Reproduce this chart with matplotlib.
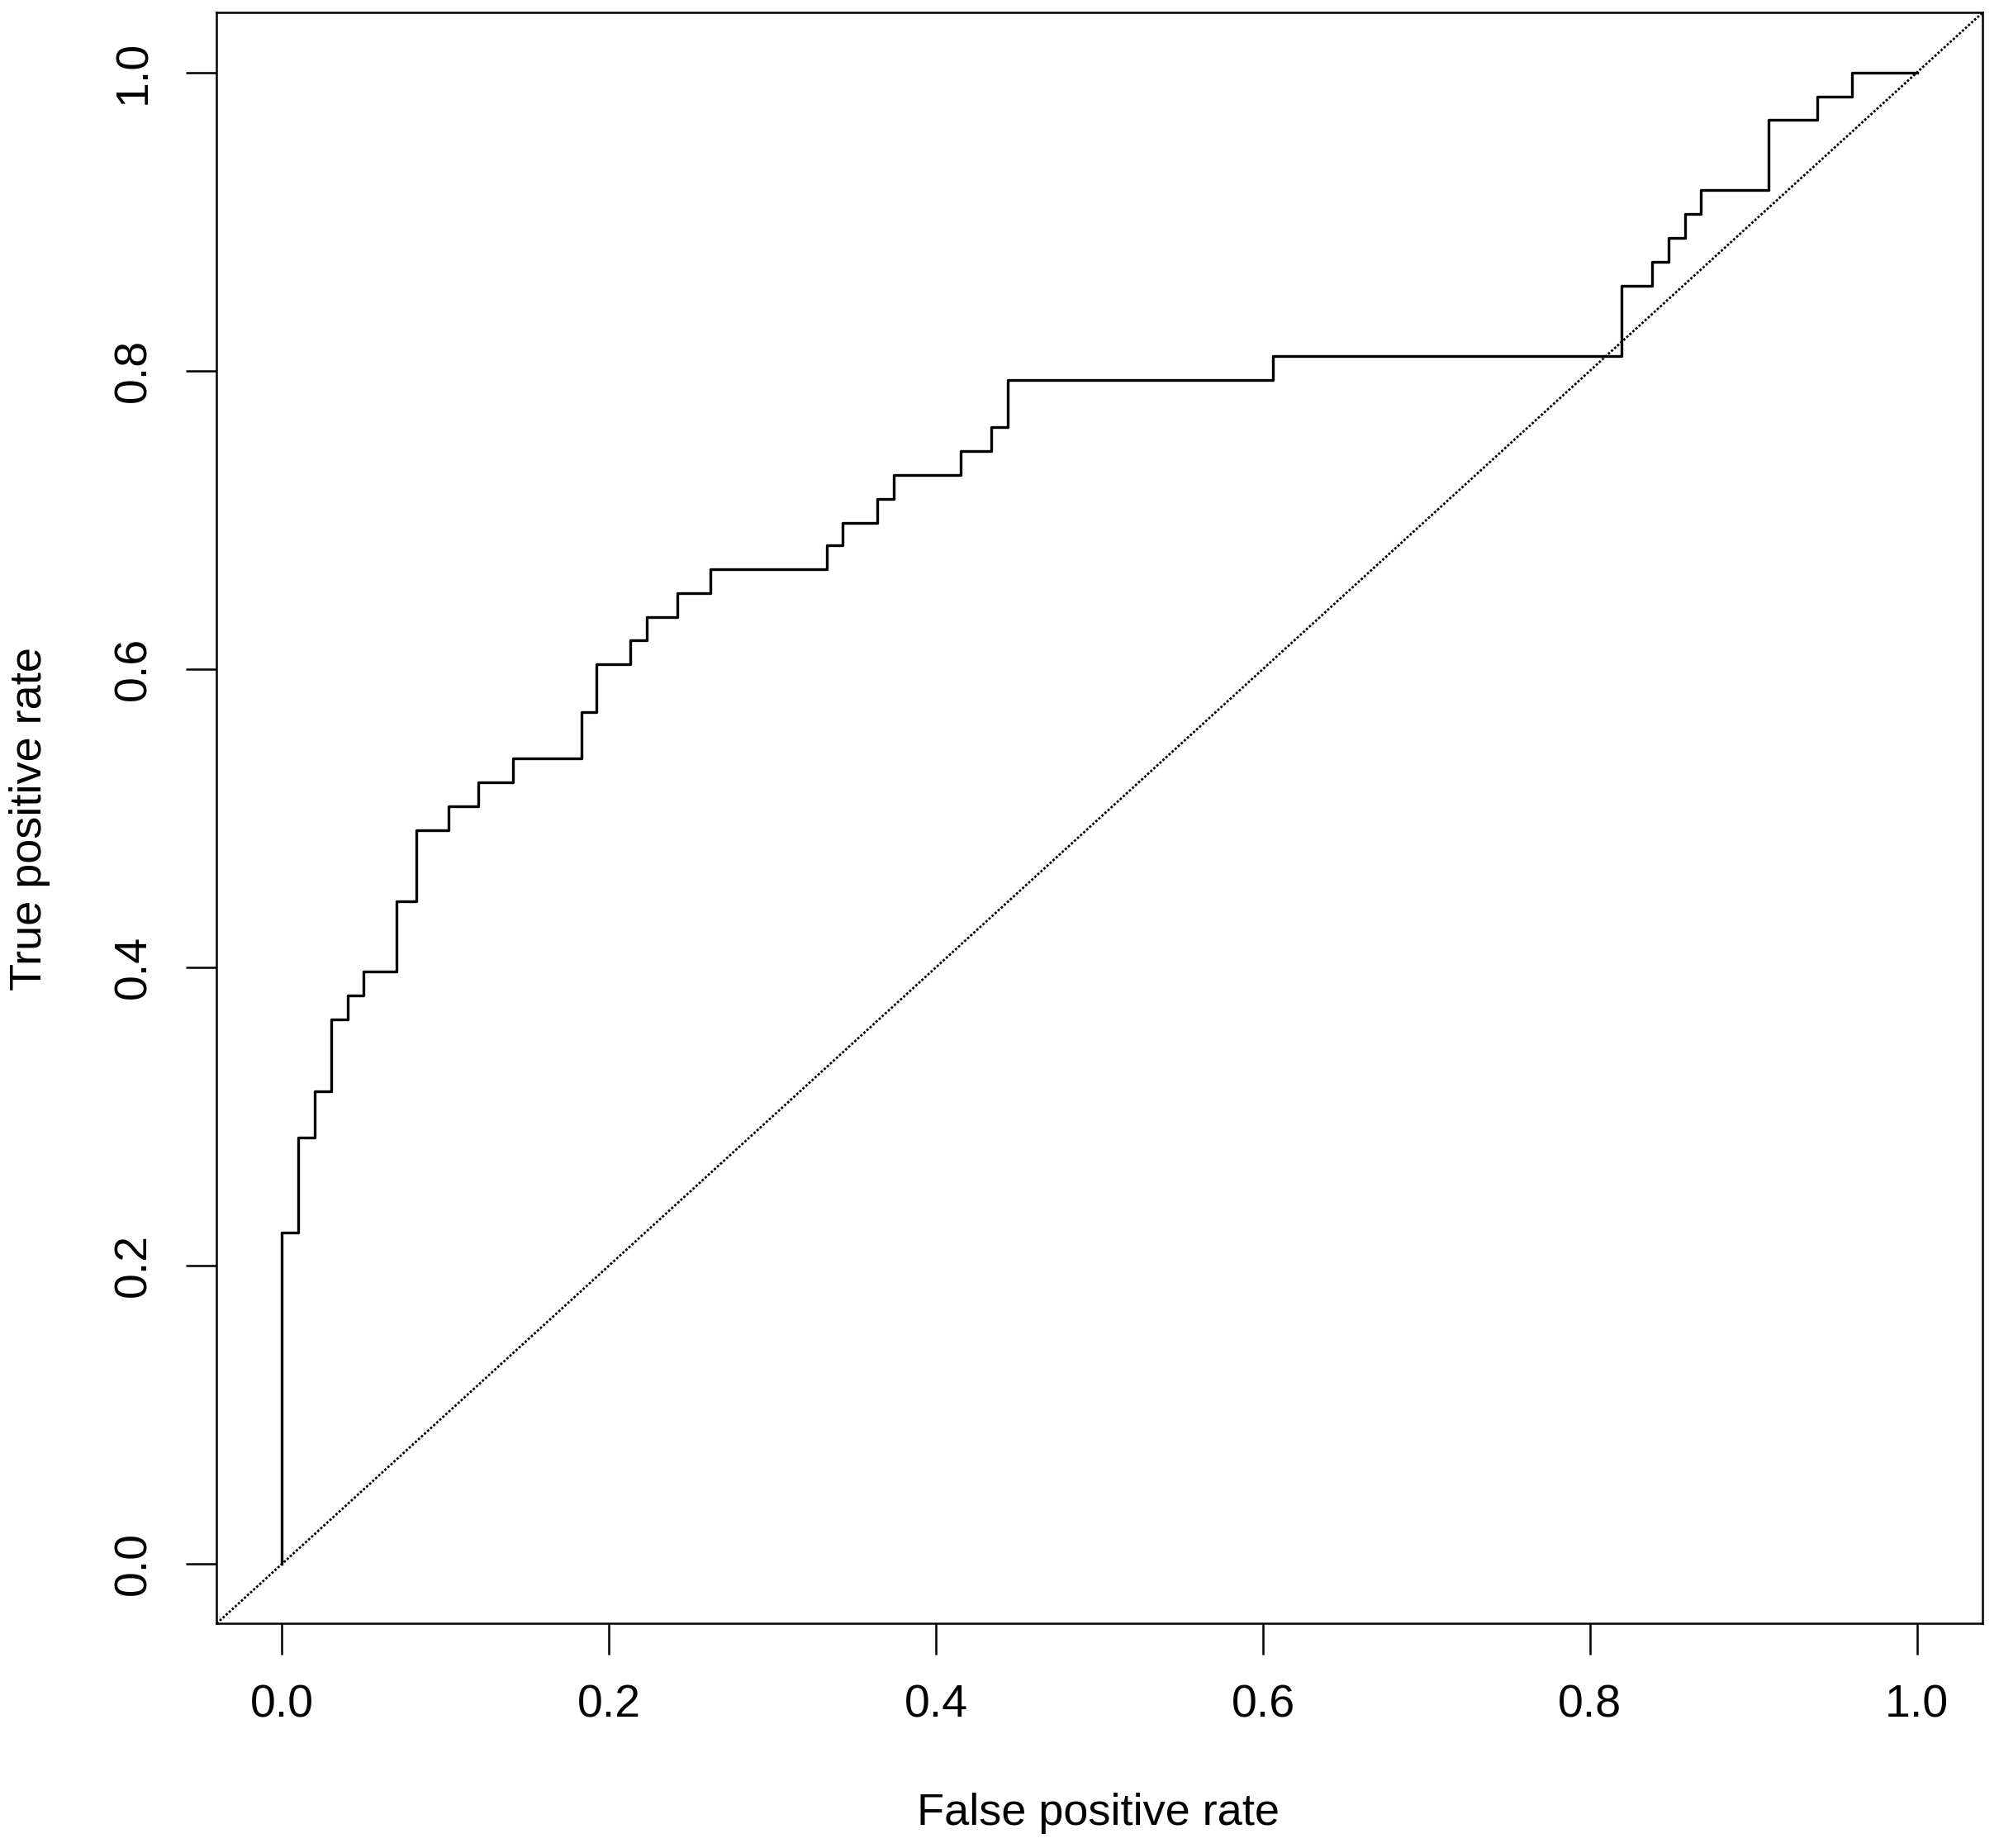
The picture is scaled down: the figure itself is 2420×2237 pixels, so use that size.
import matplotlib.pyplot as plt
import numpy as np

# ROC curve step points (false positive rate, true positive rate)
fpr = [0.0, 0.0, 0.01, 0.01, 0.02, 0.02, 0.03, 0.03, 0.04, 0.04, 0.05, 0.05,
       0.07, 0.07, 0.082, 0.082, 0.102, 0.102, 0.12, 0.12, 0.141, 0.141,
       0.183, 0.183, 0.192, 0.192, 0.213, 0.213, 0.223, 0.223, 0.242, 0.242,
       0.262, 0.262, 0.333, 0.333, 0.343, 0.343, 0.364, 0.364, 0.374, 0.374,
       0.415, 0.415, 0.434, 0.434, 0.444, 0.444, 0.606, 0.606, 0.819, 0.819,
       0.838, 0.838, 0.848, 0.848, 0.858, 0.858, 0.868, 0.868, 0.909, 0.909,
       0.939, 0.939, 0.96, 0.96, 1.0]
tpr = [0.0, 0.222, 0.222, 0.286, 0.286, 0.317, 0.317, 0.365, 0.365, 0.381,
       0.381, 0.397, 0.397, 0.444, 0.444, 0.492, 0.492, 0.508, 0.508, 0.524,
       0.524, 0.540, 0.540, 0.571, 0.571, 0.603, 0.603, 0.619, 0.619, 0.635,
       0.635, 0.651, 0.651, 0.667, 0.667, 0.683, 0.683, 0.698, 0.698, 0.714,
       0.714, 0.730, 0.730, 0.746, 0.746, 0.762, 0.762, 0.794, 0.794, 0.810,
       0.810, 0.857, 0.857, 0.873, 0.873, 0.889, 0.889, 0.905, 0.905, 0.921,
       0.921, 0.968, 0.968, 0.984, 0.984, 1.0, 1.0]

tick_vals = [0.0, 0.2, 0.4, 0.6, 0.8, 1.0]
tick_labels = ["0.0", "0.2", "0.4", "0.6", "0.8", "1.0"]

plt.rcParams['font.family'] = ['Liberation Sans', 'DejaVu Sans']

fig = plt.figure(figsize=(12.1, 11.185), dpi=200)
ax = fig.add_axes([0.1084, 0.1215, 0.8833, 0.8716])

ax.plot(fpr, tpr, color="black", linewidth=1.2)
# reference diagonal
ax.axline((0, 0), slope=1, color="black", linewidth=1.0, linestyle=(0, (1.0, 0.8)))

ax.set_xlim(-0.04, 1.04)
ax.set_ylim(-0.04, 1.04)

ax.set_xticks(tick_vals)
ax.set_xticklabels(tick_labels)
ax.set_yticks(tick_vals)
ax.set_yticklabels(tick_labels, rotation=90, va="center")
ax.tick_params(direction="out", length=13.5, width=0.9, labelsize=20, pad=13)

for s in ax.spines.values():
    s.set_linewidth(0.9)

fig.text(0.5495, 0.0186, "False positive rate", ha="center", va="center", fontsize=19.5)
fig.text(0.015, 0.557, "True positive rate", ha="center", va="center", rotation=90, fontsize=19.5)

fig.savefig("out.png", dpi=200)
